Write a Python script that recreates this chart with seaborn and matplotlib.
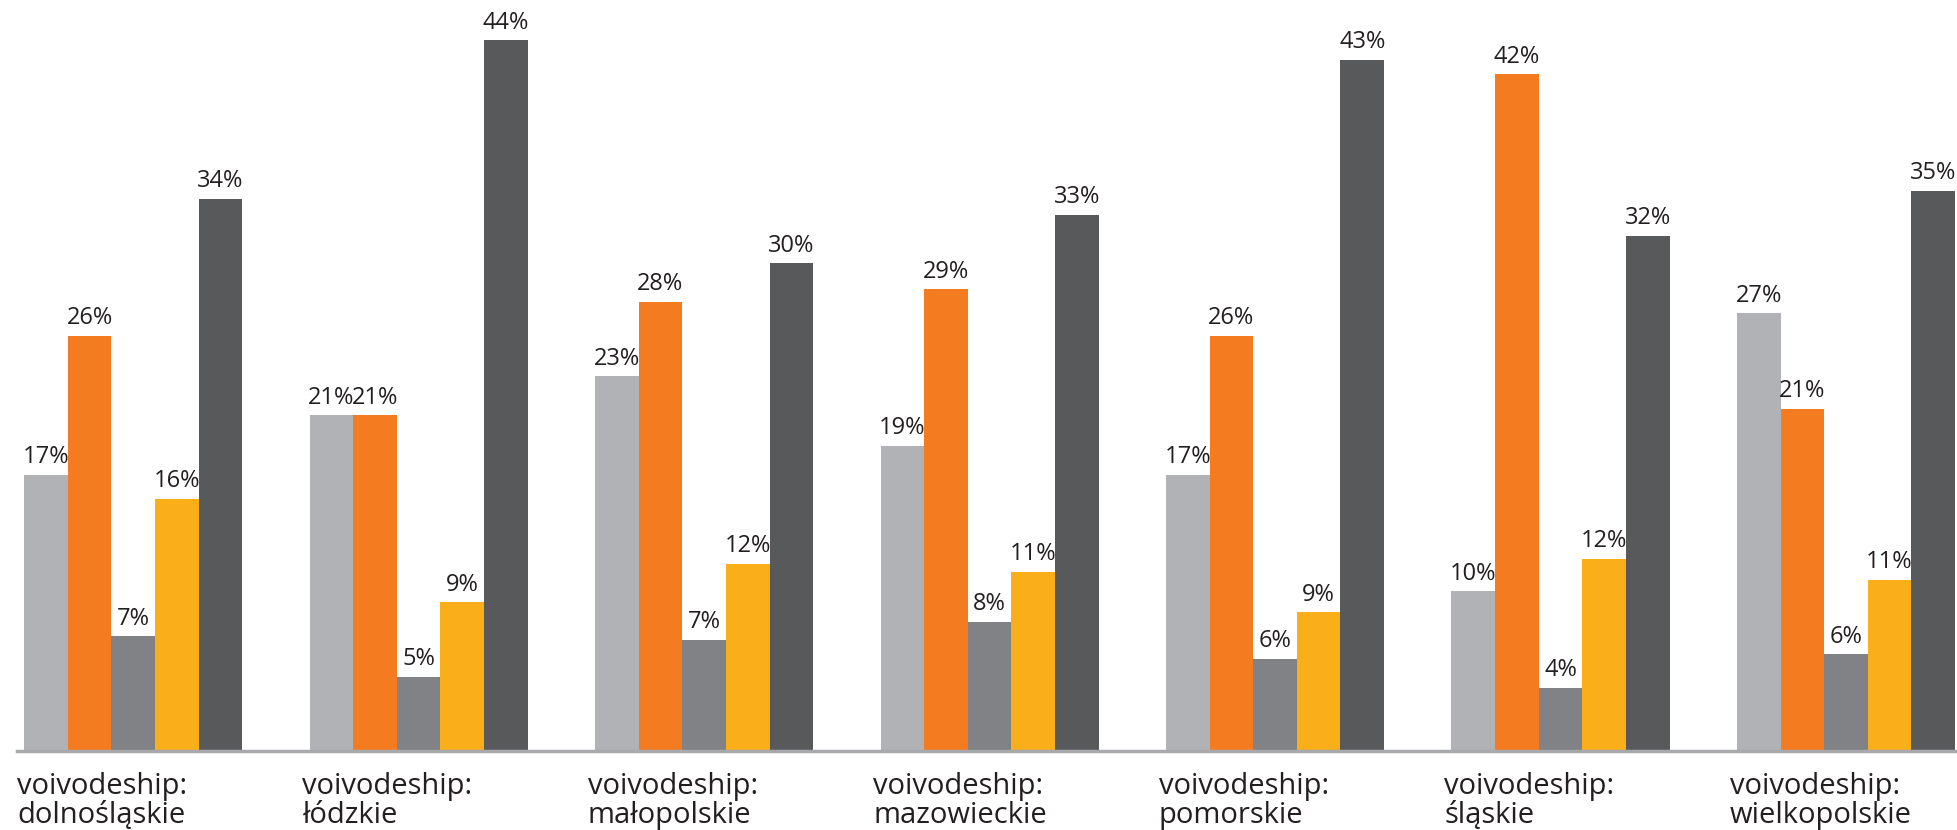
import pandas as pd
import seaborn as sns
import matplotlib.pyplot as plt

# dane z wykresu
regions = ["dolnośląskie", "łódzkie", "małopolskie", "mazowieckie",
           "pomorskie", "śląskie", "wielkopolskie"]
series = ["s1", "s2", "s3", "s4", "s5"]
s1 = [17.1, 20.8, 23.2, 18.9, 17.1, 9.9, 27.1]
s2 = [25.7, 20.8, 27.8, 28.6, 25.7, 41.9, 21.2]
s3 = [7.1, 4.6, 6.9, 8.0, 5.7, 3.9, 6.0]
s4 = [15.6, 9.2, 11.6, 11.1, 8.6, 11.9, 10.6]
s5 = [34.2, 44.0, 30.2, 33.2, 42.8, 31.9, 34.7]
colors = ["#B1B2B5", "#F47B20", "#818285", "#F9AE1A", "#58595B"]

rows = []
for name, vals in zip(series, [s1, s2, s3, s4, s5]):
    for r, v in zip(regions, vals):
        rows.append({"region": r, "series": name, "value": v})
df = pd.DataFrame(rows)

sns.set_style("white")
plt.rcParams["font.family"] = ["Open Sans", "DejaVu Sans"]

fig = plt.figure(figsize=(19.57, 8.30), dpi=100)
ax = fig.add_axes([17 / 1957, 79 / 830, 1938 / 1957, 1 - 79 / 830])

gw = 0.764
sns.barplot(data=df, x="region", y="value", hue="series", order=regions,
            hue_order=series, palette=colors, width=gw, linewidth=0,
            saturation=1, legend=False, ax=ax)

for cont in ax.containers:
    ax.bar_label(cont, labels=[f"{round(b.get_height())}%" for b in cont],
                 padding=4, fontsize=17, color="#231F20")

ax.set_xlim(-gw / 2, len(regions) - 1 + gw / 2)
ax.set_ylim(0, 46.5)
ax.set_xticks([i - gw / 2 - 0.025 for i in range(len(regions))],
              ["voivodeship:\n" + r for r in regions], ha="left",
              fontsize=21, color="#231F20", linespacing=1.0)
ax.tick_params(axis="x", length=0, pad=15)
ax.set_yticks([])
ax.set_xlabel("")
ax.set_ylabel("")
for s in ["left", "right", "top"]:
    ax.spines[s].set_visible(False)
ax.spines["bottom"].set_color("#A7A9AC")
ax.spines["bottom"].set_linewidth(2.5)

fig.savefig("out.png", dpi=100)
